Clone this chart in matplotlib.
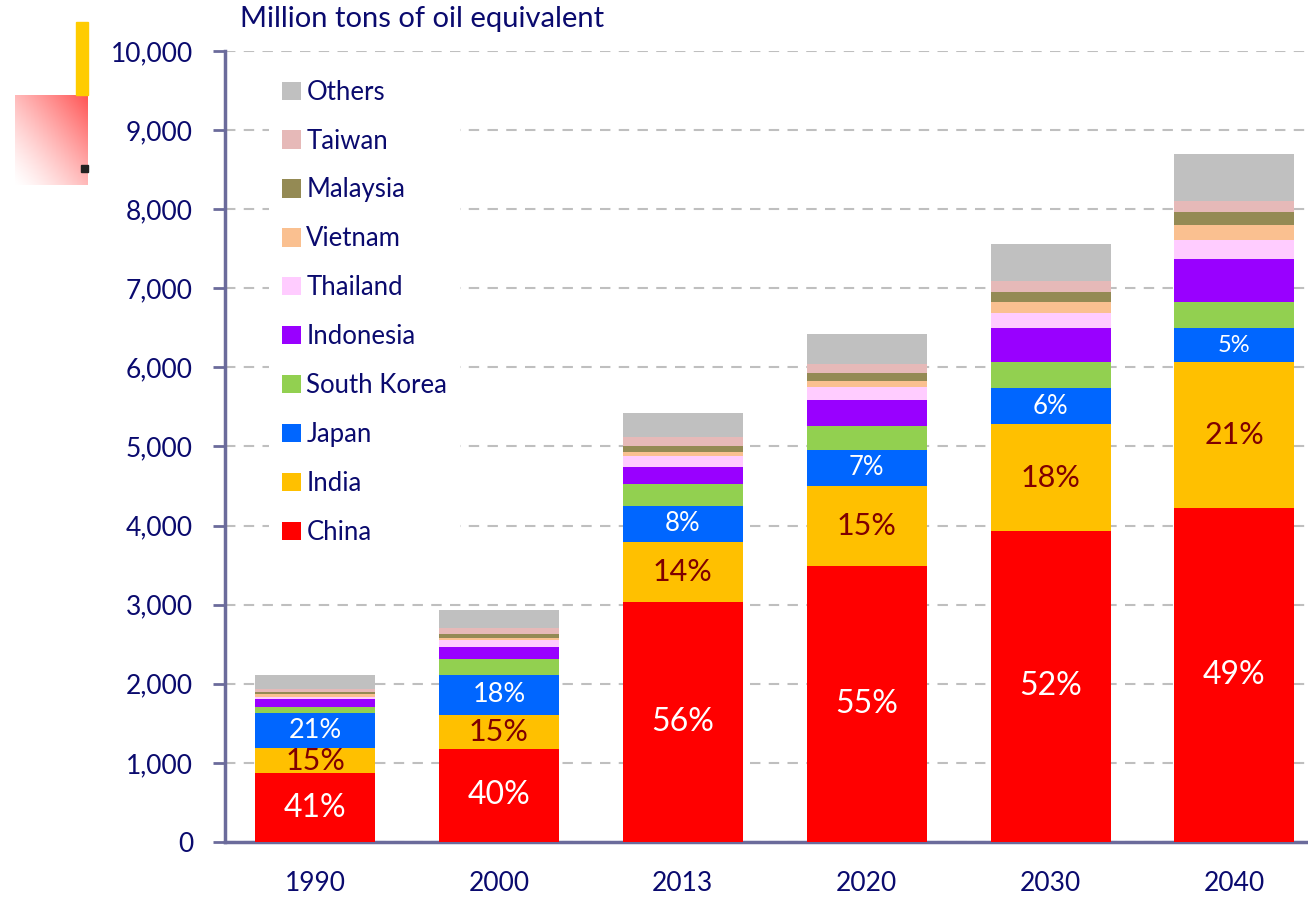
import numpy as np
import matplotlib
matplotlib.use("Agg")
import matplotlib.pyplot as plt
from matplotlib.patches import Rectangle, Patch

plt.rcParams['font.family'] = ['Lato', 'DejaVu Sans']

years = ["1990", "2000", "2013", "2020", "2030", "2040"]
countries = ["China", "India", "Japan", "South Korea", "Indonesia",
             "Thailand", "Vietnam", "Malaysia", "Taiwan", "Others"]
colors = ["#FF0000", "#FFC000", "#0066FF", "#92D050", "#9900FF",
          "#FFCCFF", "#FAC090", "#948A54", "#E6B9B8", "#C0C0C0"]

# million toe
china = [872, 1176, 3034, 3489, 3932, 4222]
india = [316, 430, 759, 1012, 1352, 1846]
japan = [443, 505, 455, 455, 456, 430]
south_korea = [76, 203, 278, 303, 328, 329]
indonesia = [101, 151, 215, 329, 430, 543]
thailand = [25, 89, 139, 164, 190, 241]
vietnam = [37, 25, 50, 76, 139, 189]
malaysia = [26, 51, 76, 101, 126, 165]
taiwan = [38, 75, 114, 114, 139, 139]
others = [177, 228, 304, 379, 468, 594]

china_pct = ["41%", "40%", "56%", "55%", "52%", "49%"]
india_pct = ["15%", "15%", "14%", "15%", "18%", "21%"]
japan_pct = ["21%", "18%", "8%", "7%", "6%", "5%"]

series = [china, india, japan, south_korea, indonesia,
          thailand, vietnam, malaysia, taiwan, others]

navy = "#0A0A6E"
spine_c = "#6B6B9B"

fig = plt.figure(figsize=(13.08, 8.97), dpi=100)
ax = fig.add_axes([225/1308, 55/897, 1083/1308, 791/897])

x = np.arange(len(years))
bottom = np.zeros(len(years))
for vals, name, c in zip(series, countries, colors):
    ax.bar(x, vals, 0.653, bottom=bottom, color=c, label=name, zorder=3)
    bottom += np.array(vals)

# percentage labels
cb = np.array(china, float)
ib = cb + np.array(india)
jb = ib + np.array(japan)
jsizes = [19.5, 19.5, 18.5, 18.5, 18.5, 17]
for i in range(len(years)):
    ax.text(x[i], cb[i] / 2, china_pct[i], ha='center', va='center',
            color='white', fontsize=23, zorder=4)
    ax.text(x[i], (cb[i] + ib[i]) / 2, india_pct[i], ha='center', va='center',
            color='#7F0000', fontsize=22, zorder=4)
    ax.text(x[i], (ib[i] + jb[i]) / 2, japan_pct[i], ha='center', va='center',
            color='white', fontsize=jsizes[i], zorder=4)

ax.set_xlim(-0.49, 5.40)
ax.set_ylim(0, 10000)
ax.set_yticks(np.arange(0, 10001, 1000))
ax.set_yticklabels([f"{v:,}" for v in range(0, 10001, 1000)])
ax.set_xticks(x)
ax.set_xticklabels(years)
ax.tick_params(axis='y', colors=spine_c, labelcolor=navy, labelsize=19,
               length=9, width=2, pad=14)
ax.tick_params(axis='x', length=0, labelcolor=navy, labelsize=19, pad=21)
ax.yaxis.grid(True, linestyle=(0, (5, 4)), color='#BFBFBF', linewidth=1.5, zorder=0)
ax.set_axisbelow(True)
for s in ['top', 'right']:
    ax.spines[s].set_visible(False)
for s in ['left', 'bottom']:
    ax.spines[s].set_color(spine_c)
    ax.spines[s].set_linewidth(2.5)

handles = [Patch(facecolor=c, edgecolor='none') for c in colors][::-1]
leg = ax.legend(handles, countries[::-1], loc='upper left',
                bbox_to_anchor=(0.041, 0.980), frameon=True, fontsize=18.5,
                handlelength=0.72, handleheight=0.72, handletextpad=0.22,
                labelspacing=0.93, borderpad=0.5, borderaxespad=0)
leg.get_frame().set_facecolor('white')
leg.get_frame().set_edgecolor('none')
leg.get_frame().set_alpha(1)
leg.set_zorder(5)
for t in leg.get_texts():
    t.set_color(navy)

fig.text(240/1308, 1 - 19/897, "Million tons of oil equivalent",
         ha='left', va='center', fontsize=21, color=navy)

# decoration at top left
fig.patches.append(Rectangle((76/1308, 1 - 95/897), 12/1308, 73/897,
                             transform=fig.transFigure, color='#FFCC00'))
gax = fig.add_axes([15/1308, 1 - 185/897, 73/1308, 90/897])
gx, gy = np.meshgrid(np.linspace(0, 1, 100), np.linspace(0, 1, 100))
t = np.clip((gx + gy) / 2, 0, 1) ** 1.3
img = np.ones((100, 100, 3))
img[..., 1] = 1 - t * (1 - 0.33)
img[..., 2] = 1 - t * (1 - 0.33)
gax.imshow(img, aspect='auto', origin='lower', extent=[0, 1, 0, 1])
gax.axis('off')
fig.patches.append(Rectangle((81/1308, 1 - 172/897), 7/1308, 7/897,
                             transform=fig.transFigure, color='#222222', zorder=10))

fig.savefig("out.png", dpi=100)
